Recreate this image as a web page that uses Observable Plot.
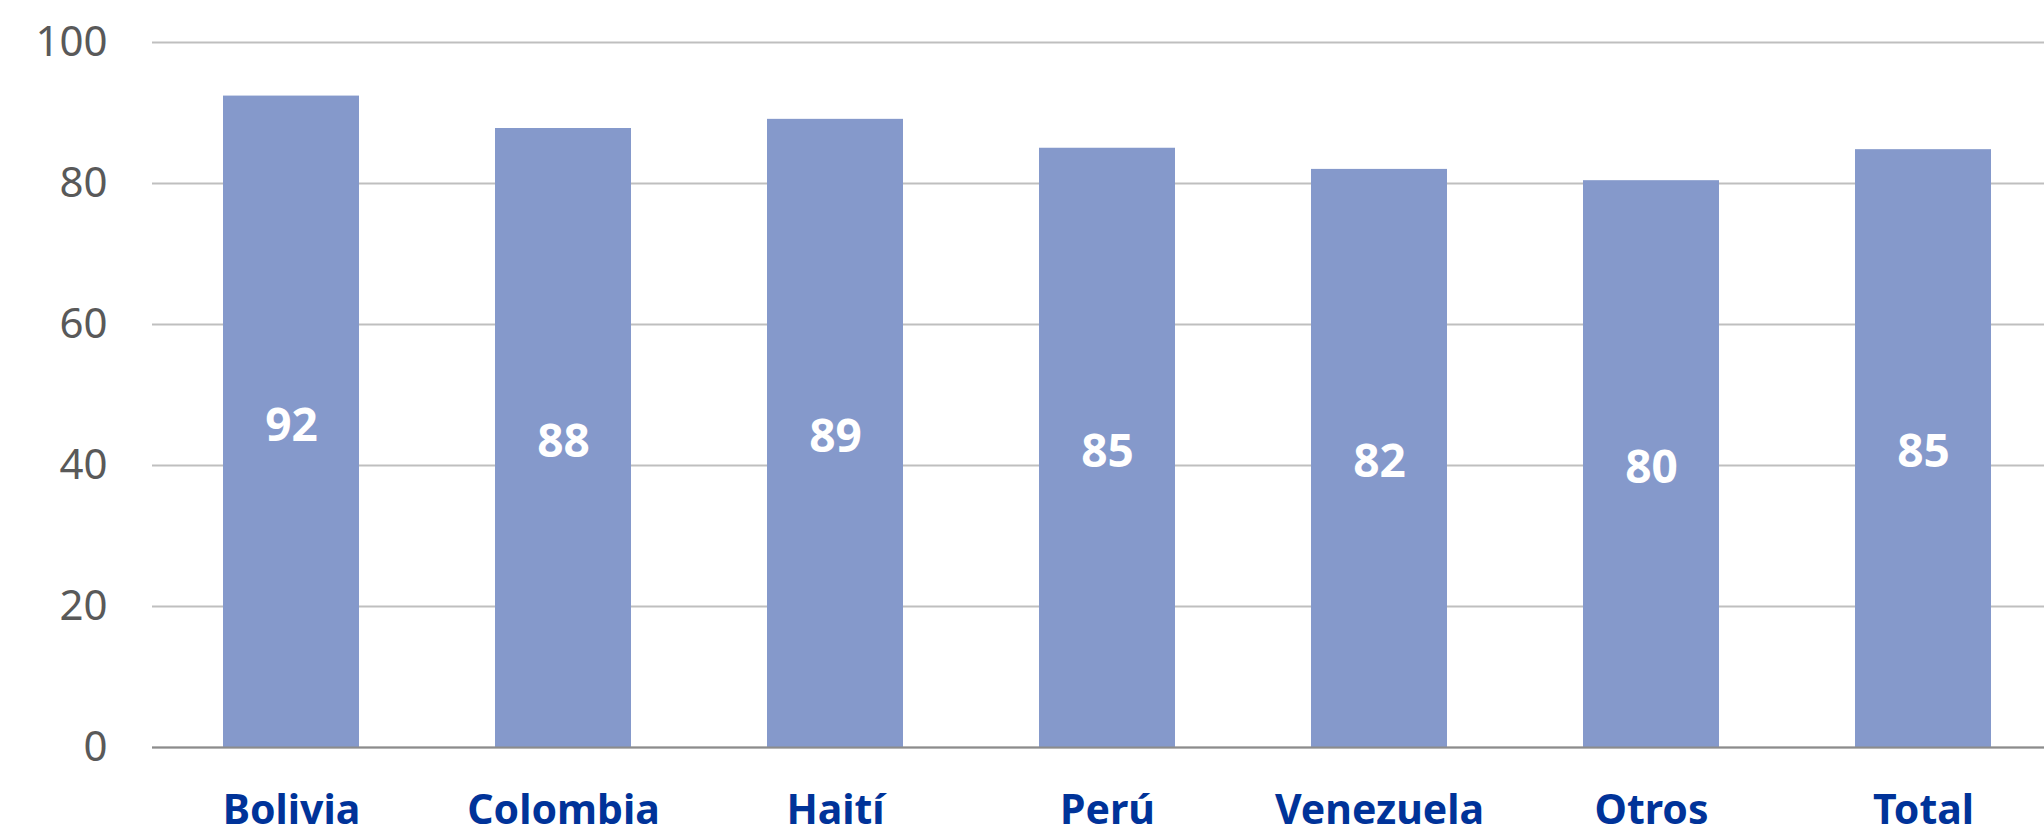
<!DOCTYPE html>
<html>
<head>
<meta charset="utf-8">
<script src="https://cdn.jsdelivr.net/npm/d3@7"></script>
<script src="https://cdn.jsdelivr.net/npm/@observablehq/plot@0.6"></script>
<style>
  html, body { margin: 0; padding: 0; background: #fff; }
  #chart svg { display: block; }
</style>
</head>
<body>
<div id="chart"></div>
<script>
const categories = ["Bolivia", "Colombia", "Haití", "Perú", "Venezuela", "Otros", "Total"];
const values = [92.4, 87.8, 89.1, 85.0, 82.0, 80.4, 84.8];
const valueLabels = ["92", "88", "89", "85", "82", "80", "85"];
const yTicks = [0, 20, 40, 60, 80, 100];

const data = categories.map((c, i) => ({ cat: c, v: values[i], label: valueLabels[i] }));

const chart = Plot.plot({
  width: 2044,
  height: 827,
  marginLeft: 152,
  marginRight: 0,
  marginTop: 42,
  marginBottom: 80,
  style: { fontFamily: "'Noto Sans', 'Open Sans', sans-serif", background: "#fff" },
  x: { domain: categories, range: [152, 2062], paddingInner: 0.5, paddingOuter: 0.25, align: 0.5 },
  y: { domain: [0, 100] },
  marks: [
    Plot.gridY(yTicks, { stroke: "#bfbfbf", strokeOpacity: 1, strokeWidth: 2 }),
    Plot.barY(data, { x: "cat", y: "v", fill: "#8599cb" }),
    Plot.ruleY([0], { stroke: "#8c8c8c", strokeWidth: 2 }),
    Plot.text(data, { x: "cat", y: d => d.v / 2, text: "label", fill: "#fff", fontSize: 46, fontWeight: "bold", textAnchor: "middle", dy: 4 }),
    Plot.axisY(yTicks, { tickSize: 0, tickPadding: 45, fontSize: 42, fill: "#595959", label: null }),
    Plot.axisX({ tickSize: 0, tickPadding: 47, fontSize: 41, fontWeight: "bold", fill: "#003399", label: null })
  ]
});
document.getElementById("chart").appendChild(chart);
</script>
</body>
</html>
